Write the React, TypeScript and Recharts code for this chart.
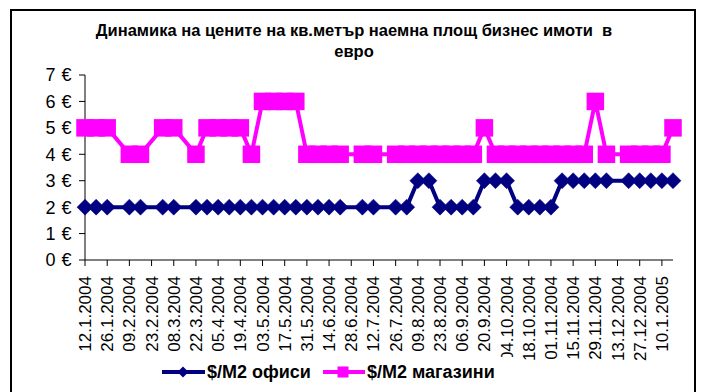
import React from "react";
import { LineChart, Line, XAxis, YAxis, Legend } from "recharts";

const dates = [
  "12.1.2004", "19.1.2004", "26.1.2004", "02.2.2004", "09.2.2004", "16.2.2004",
  "23.2.2004", "01.3.2004", "08.3.2004", "15.3.2004", "22.3.2004", "29.3.2004",
  "05.4.2004", "12.4.2004", "19.4.2004", "26.4.2004", "03.5.2004", "10.5.2004",
  "17.5.2004", "24.5.2004", "31.5.2004", "07.6.2004", "14.6.2004", "21.6.2004",
  "28.6.2004", "05.7.2004", "12.7.2004", "19.7.2004", "26.7.2004", "02.8.2004",
  "09.8.2004", "16.8.2004", "23.8.2004", "30.8.2004", "06.9.2004", "13.9.2004",
  "20.9.2004", "27.9.2004", "04.10.2004", "11.10.2004", "18.10.2004", "25.10.2004",
  "01.11.2004", "08.11.2004", "15.11.2004", "22.11.2004", "29.11.2004", "06.12.2004",
  "13.12.2004", "20.12.2004", "27.12.2004", "03.1.2005", "10.1.2005", "17.1.2005",
];

const offices: (number | null)[] = [
  2, 2, 2, null, 2, 2, null, 2, 2, null,
  2, 2, 2, 2, 2, 2, 2, 2, 2, 2,
  2, 2, 2, 2, null, 2, 2, null, 2, 2,
  3, 3, 2, 2, 2, 2, 3, 3, 3, 2,
  2, 2, 2, 3, 3, 3, 3, 3, null, 3,
  3, 3, 3, 3,
];

const shops: (number | null)[] = [
  5, 5, 5, null, 4, 4, null, 5, 5, null,
  4, 5, 5, 5, 5, 4, 6, 6, 6, 6,
  4, 4, 4, 4, null, 4, 4, null, 4, 4,
  4, 4, 4, 4, 4, 4, 5, 4, 4, 4,
  4, 4, 4, 4, 4, 4, 6, 4, null, 4,
  4, 4, 4, 5,
];

const yTicks = [0, 1, 2, 3, 4, 5, 6, 7];

const titleLine1 = "Динамика на цените на кв.метър наемна площ бизнес имоти  в";
const titleLine2 = "евро";
const officeName = "$/M2 офиси";
const shopName = "$/M2 магазини";

const NAVY = "#000080";
const MAGENTA = "#FF00FF";
const FONT = "'Liberation Sans', Arial, sans-serif";

const data = dates.map((d, i) => ({ date: d, office: offices[i], shop: shops[i] }));

const DiamondDot = (props: any) => {
  const { cx, cy, value, index } = props;
  if (cx == null || cy == null || value == null) return <g key={`d${index}`} />;
  const r = 8;
  return (
    <path
      key={`d${index}`}
      d={`M${cx},${cy - r} L${cx + r},${cy} L${cx},${cy + r} L${cx - r},${cy} Z`}
      fill={NAVY}
      stroke={NAVY}
      strokeWidth={0.5}
    />
  );
};

const SquareDot = (props: any) => {
  const { cx, cy, value, index } = props;
  if (cx == null || cy == null || value == null) return <g key={`s${index}`} />;
  const h = 8.75;
  return <rect key={`s${index}`} x={cx - h} y={cy - h} width={2 * h} height={2 * h} fill={MAGENTA} />;
};

const XTick = (props: any) => {
  const { x, y, payload } = props;
  return (
    <text
      x={x}
      y={y}
      dy={6}
      transform={`rotate(-90, ${x}, ${y})`}
      textAnchor="end"
      fontSize={17}
      fontFamily={FONT}
      fill="#000"
    >
      {payload.value}
    </text>
  );
};

const LegendContent = () => (
  <svg width={360} height={30} style={{ display: "block" }}>
    <line x1={7} y1={15} x2={50} y2={15} stroke={NAVY} strokeWidth={4} />
    <path d="M28,9.5 L33.5,15 L28,20.5 L22.5,15 Z" fill={NAVY} />
    <text x={52} y={15} dy="0.36em" fontSize={18} fontWeight="bold" fontFamily={FONT} fill="#000">
      {officeName}
    </text>
    <line x1={168} y1={15} x2={210} y2={15} stroke={MAGENTA} strokeWidth={4} />
    <rect x={182.5} y={9.5} width={11} height={11} fill={MAGENTA} />
    <text x={212} y={15} dy="0.36em" fontSize={18} fontWeight="bold" fontFamily={FONT} fill="#000">
      {shopName}
    </text>
  </svg>
);

export default function App() {
  return (
    <div
      style={{
        position: "absolute",
        left: 0,
        top: 0,
        width: 701,
        height: 392,
        overflow: "hidden",
        background: "#fff",
        fontFamily: FONT,
      }}
    >
      <div
        style={{
          position: "absolute",
          left: 10,
          top: 9,
          width: 682,
          height: 420,
          border: "2px solid #000",
        }}
      />
      <div
        style={{
          position: "absolute",
          left: 10,
          top: 20,
          width: 688,
          textAlign: "center",
          fontSize: 16.5,
          fontWeight: "bold",
          lineHeight: "21px",
          whiteSpace: "pre",
          color: "#000",
        }}
      >
        {titleLine1}
        <br />
        {titleLine2}
      </div>
      <div style={{ position: "absolute", left: 0, top: 0 }}>
        <LineChart
          width={701}
          height={392}
          data={data}
          margin={{ top: 75, right: 28, bottom: 32, left: 25 }}
        >
          <XAxis
            dataKey="date"
            interval={1}
            height={100}
            tick={<XTick />}
            tickSize={6}
            tickMargin={10}
            axisLine={{ stroke: "#000", strokeWidth: 1 }}
            tickLine={{ stroke: "#000" }}
          />
          <YAxis
            width={60}
            domain={[0, 7]}
            ticks={yTicks}
            tickFormatter={(v: number) => `${v} €`}
            tick={{ fontSize: 18, fill: "#000", fontFamily: FONT, letterSpacing: 0.5 }}
            tickSize={6}
            tickMargin={7}
            axisLine={{ stroke: "#000", strokeWidth: 1 }}
            tickLine={{ stroke: "#000" }}
            allowDataOverflow
          />
          <Line
            dataKey="office"
            name={officeName}
            stroke={NAVY}
            strokeWidth={4}
            connectNulls
            dot={<DiamondDot />}
            activeDot={false}
            isAnimationActive={false}
          />
          <Line
            dataKey="shop"
            name={shopName}
            stroke={MAGENTA}
            strokeWidth={4}
            connectNulls
            dot={<SquareDot />}
            activeDot={false}
            isAnimationActive={false}
          />
          <Legend
            layout="horizontal"
            verticalAlign="middle"
            align="center"
            content={<LegendContent />}
            wrapperStyle={{ top: 357, left: 155, width: 360, height: 30, background: "#fff" }}
          />
        </LineChart>
      </div>
    </div>
  );
}
